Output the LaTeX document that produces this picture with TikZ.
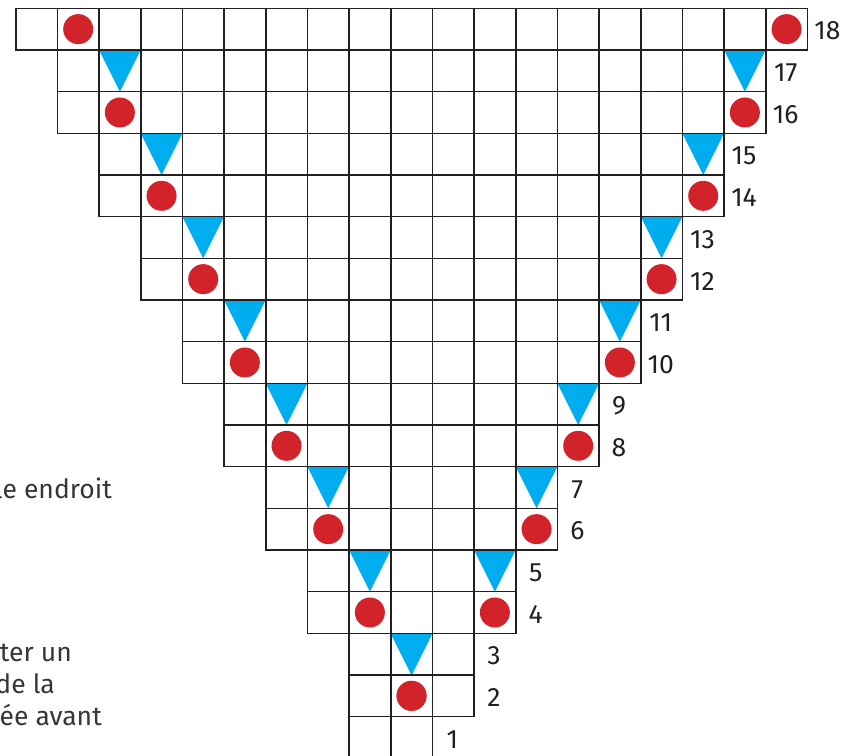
\documentclass[tikz,border=0pt]{standalone}
\usepackage{fontspec}
\setmainfont{Fira Sans}
\definecolor{gridc}{HTML}{231F20}
\definecolor{dotred}{HTML}{D2232A}
\definecolor{triblue}{HTML}{00AEEF}
\begin{document}
\begin{tikzpicture}[x=1pt,y=-1pt,
  cellbox/.style={draw=gridc,line width=1.6pt},
  reddot/.style={fill=dotred,draw=none},
  bluetri/.style={fill=triblue,draw=none},
  rowlbl/.style={inner sep=0pt,text=gridc,font=\fontsize{26.5}{32}\selectfont},
  sidetxt/.style={inner sep=0pt,anchor=base east,text=gridc!90,font=\fontsize{26.5}{32}\selectfont}]
\useasboundingbox (0,0) rectangle (846,755);
\clip (0,0) rectangle (846,755);
\def\s{41.667}
\def\xo{15.7}
\def\yo{8.3}
% fills: triangles (odd rows) and dots (even rows)
\foreach \r in {2,...,18}{
  \pgfmathtruncatemacro\k{int(\r/2)}
  \pgfmathsetmacro\rtop{\yo+(18-\r)*\s}
  \pgfmathtruncatemacro\ca{10-\k}
  \pgfmathtruncatemacro\cb{\k==1 ? 9 : 9+\k}
  \pgfmathtruncatemacro\isodd{mod(\r,2)}
  \foreach \c in {\ca,\cb}{
    \ifnum\isodd=1
      \fill[bluetri] ({\xo+\c*\s},\rtop) -- ({\xo+(\c+1)*\s},\rtop) -- ({\xo+(\c+0.5)*\s},{\rtop+\s}) -- cycle;
    \else
      \fill[reddot] ({\xo+(\c+0.5)*\s},{\rtop+\s/2}) circle (15);
    \fi
  }
}
% grid
\foreach \r in {1,...,18}{
  \pgfmathtruncatemacro\k{int(\r/2)}
  \pgfmathtruncatemacro\cs{\r==1 ? 8 : 9-\k}
  \pgfmathtruncatemacro\ce{\r==1 ? 9 : 9+\k}
  \pgfmathsetmacro\rtop{\yo+(18-\r)*\s}
  \foreach \c in {\cs,...,\ce}{
    \draw[cellbox] ({\xo+\c*\s},\rtop) rectangle +(\s,\s);
  }
  \node[rowlbl] (L\r) at ({\xo+(\ce+1)*\s+20},{\rtop+\s/2+2}) {\r};
}
% partially visible text on the left (cut by the picture's edge, as in the reference)
\node[sidetxt] (t1) at (112,498.3) {le endroit};
\node[sidetxt] (t2) at (72,661.7) {ter un};
\node[sidetxt] (t3) at (55,693.3) {de la};
\node[sidetxt] (t4) at (102,725.7) {ée avant};
\end{tikzpicture}
\end{document}
